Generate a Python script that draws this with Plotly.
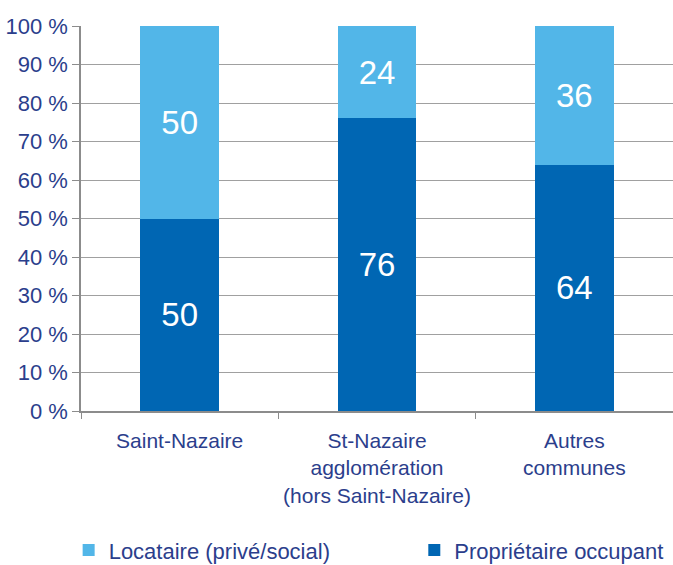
import plotly.graph_objects as go

categories = ["Saint-Nazaire", "St-Nazaire<br>agglomération<br>(hors Saint-Nazaire)", "Autres<br>communes"]
proprietaire = [50, 76, 64]
locataire = [50, 24, 36]
y_ticks = list(range(0, 101, 10))
y_tick_labels = [f"{v} %" for v in y_ticks]

navy = "#2B3E8C"
fontfam = "Liberation Sans, Arial, sans-serif"

fig = go.Figure()
fig.add_trace(go.Bar(
    x=categories, y=proprietaire, name="Propriétaire occupant",
    marker=dict(color="#0066B3", line=dict(width=0)),
    text=[str(v) for v in proprietaire], textposition="inside",
    insidetextanchor="middle", textangle=0,
    textfont=dict(size=33, color="white", family=fontfam),
    legend="legend2",
))
fig.add_trace(go.Bar(
    x=categories, y=locataire, name="Locataire (privé/social)",
    marker=dict(color="#52B6E8", line=dict(width=0)),
    text=[str(v) for v in locataire], textposition="inside",
    insidetextanchor="middle", textangle=0,
    textfont=dict(size=33, color="white", family=fontfam),
    legend="legend",
))

leg_common = dict(orientation="h", yref="container", xref="container",
                  yanchor="middle", y=0.026, xanchor="left",
                  font=dict(size=22, color=navy), bgcolor="rgba(0,0,0,0)")
fig.update_layout(
    width=673, height=565,
    barmode="stack", bargap=0.6,
    margin=dict(l=81, r=0, t=26, b=154, autoexpand=False),
    plot_bgcolor="white", paper_bgcolor="white",
    font=dict(family=fontfam, size=21, color=navy),
    showlegend=True,
    legend=dict(x=0.102, **leg_common),
    legend2=dict(x=0.6156, **leg_common),
)
fig.update_xaxes(
    automargin=False,
    showline=True, linecolor="#8C8C8C", linewidth=1.5,
    ticks="outside", tickson="boundaries", ticklen=6, tickcolor="#8C8C8C",
    ticklabelstandoff=10,
    tickfont=dict(size=21, color=navy), showgrid=False,
)
fig.update_yaxes(
    automargin=False,
    range=[0, 100], tickvals=y_ticks, ticktext=y_tick_labels,
    showline=True, linecolor="#8C8C8C", linewidth=1.5,
    ticks="outside", ticklen=7, tickcolor="#8C8C8C",
    showgrid=True, gridcolor="#A0A0A0", gridwidth=1,
    tickfont=dict(size=22, color=navy), zeroline=False,
)
fig.write_html("out.html", config={"displayModeBar": False},
               post_script="document.body.style.margin='0';document.body.style.overflow='hidden';")
